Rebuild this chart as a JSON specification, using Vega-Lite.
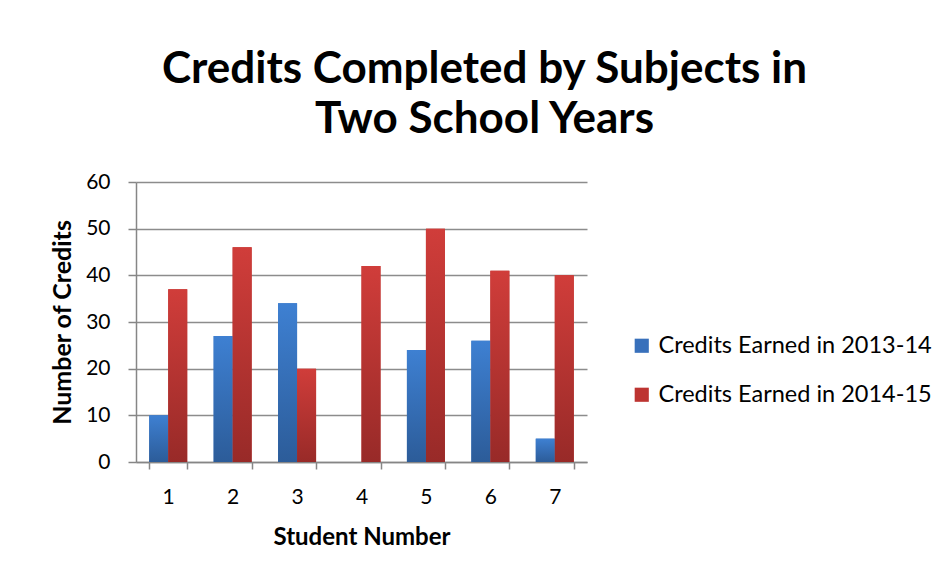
{
  "$schema": "https://vega.github.io/schema/vega-lite/v6.json",
  "width": 451,
  "height": 280,
  "autosize": {"type": "none"},
  "padding": {"left": 136, "top": 182, "right": 356, "bottom": 118},
  "background": "white",
  "title": {
    "text": ["Credits Completed by Subjects in", "Two School Years"],
    "font": "Lato",
    "fontSize": 44,
    "fontWeight": "bold",
    "color": "black",
    "anchor": "middle",
    "dx": 123,
    "lineHeight": 50,
    "offset": 29
  },
  "data": {
    "values": [
      {"student": "1", "series": "Credits Earned in 2013-14", "credits": 10},
      {"student": "1", "series": "Credits Earned in 2014-15", "credits": 37},
      {"student": "2", "series": "Credits Earned in 2013-14", "credits": 27},
      {"student": "2", "series": "Credits Earned in 2014-15", "credits": 46},
      {"student": "3", "series": "Credits Earned in 2013-14", "credits": 34},
      {"student": "3", "series": "Credits Earned in 2014-15", "credits": 20},
      {"student": "4", "series": "Credits Earned in 2013-14", "credits": 0},
      {"student": "4", "series": "Credits Earned in 2014-15", "credits": 42},
      {"student": "5", "series": "Credits Earned in 2013-14", "credits": 24},
      {"student": "5", "series": "Credits Earned in 2014-15", "credits": 50},
      {"student": "6", "series": "Credits Earned in 2013-14", "credits": 26},
      {"student": "6", "series": "Credits Earned in 2014-15", "credits": 41},
      {"student": "7", "series": "Credits Earned in 2013-14", "credits": 5},
      {"student": "7", "series": "Credits Earned in 2014-15", "credits": 40}
    ]
  },
  "encoding": {
    "x": {
      "field": "student",
      "type": "ordinal",
      "scale": {"paddingInner": 0.41, "paddingOuter": 0.205},
      "axis": {
        "title": "Student Number",
        "titleFont": "Lato",
        "titleFontSize": 24,
        "titleFontWeight": "bold",
        "titleColor": "black",
        "titlePadding": 18,
        "labelFont": "Lato",
        "labelFontSize": 21,
        "labelColor": "black",
        "labelAngle": 0,
        "labelPadding": 17,
        "tickBand": "extent",
        "tickSize": 7,
        "tickColor": "#868686",
        "tickWidth": 1.5,
        "domainColor": "#868686",
        "domainWidth": 1.5,
        "grid": false
      }
    },
    "xOffset": {"field": "series", "type": "nominal"},
    "y": {
      "field": "credits",
      "type": "quantitative",
      "scale": {"domain": [0, 60], "nice": false},
      "axis": {
        "title": "Number of Credits",
        "titleFont": "Lato",
        "titleFontSize": 25,
        "titleFontWeight": "bold",
        "titleColor": "black",
        "titlePadding": 10,
        "labelFont": "Lato",
        "labelFontSize": 21,
        "labelColor": "black",
        "labelPadding": 18,
        "values": [0, 10, 20, 30, 40, 50, 60],
        "tickSize": 8,
        "tickColor": "#868686",
        "tickWidth": 1.5,
        "domainColor": "#868686",
        "domainWidth": 1.5,
        "grid": true,
        "gridColor": "#8c8c8c",
        "gridWidth": 1.5
      }
    }
  },
  "layer": [
    {
      "mark": {"type": "bar"},
      "encoding": {
        "color": {
          "field": "series",
          "type": "nominal",
          "scale": {"range": ["#3870bb", "#bd3431"]},
          "legend": {
            "title": null,
            "orient": "none",
            "legendX": 494,
            "legendY": 152,
            "symbolType": "square",
            "symbolSize": 200,
            "symbolStrokeWidth": 0,
            "symbolOpacity": 1,
            "labelFont": "Lato",
            "labelFontSize": 23.5,
            "labelColor": "black",
            "labelOffset": 5,
            "labelLimit": 0,
            "rowPadding": 24,
            "padding": 0
          }
        }
      }
    },
    {
      "transform": [{"filter": "datum.series === 'Credits Earned in 2013-14'"}],
      "mark": {
        "type": "bar",
        "color": {"gradient": "linear", "x1": 0, "y1": 0, "x2": 0, "y2": 1, "stops": [{"offset": 0, "color": "#3e80d2"}, {"offset": 1, "color": "#2c5c99"}]}
      },
      "encoding": {}
    },
    {
      "transform": [{"filter": "datum.series === 'Credits Earned in 2014-15'"}],
      "mark": {
        "type": "bar",
        "color": {"gradient": "linear", "x1": 0, "y1": 0, "x2": 0, "y2": 1, "stops": [{"offset": 0, "color": "#d03d3a"}, {"offset": 1, "color": "#982a28"}]}
      },
      "encoding": {}
    }
  ],
  "config": {"view": {"stroke": null}}
}
